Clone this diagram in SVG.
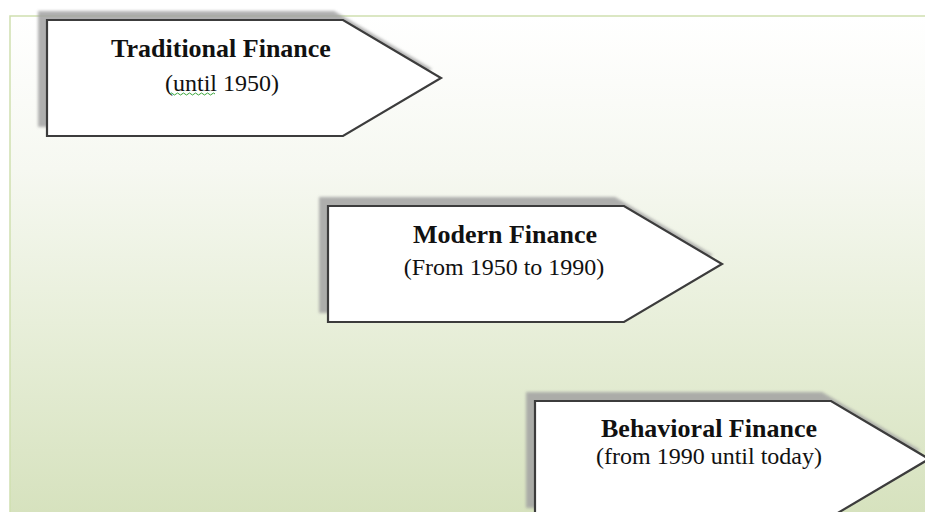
<svg xmlns="http://www.w3.org/2000/svg" width="925" height="512" viewBox="0 0 925 512">
  <defs>
    <linearGradient id="bg" x1="0" y1="0" x2="0" y2="1">
      <stop offset="0" stop-color="#ffffff"/>
      <stop offset="0.3" stop-color="#f6f8f1"/>
      <stop offset="0.6" stop-color="#e8efda"/>
      <stop offset="1" stop-color="#d5e1bc"/>
    </linearGradient>
    <filter id="shadow" x="-10%" y="-20%" width="120%" height="140%">
      <feGaussianBlur stdDeviation="1.8"/>
    </filter>
    <path id="arrowShape" d="M0,0 H296 L394,58 L296,116 H0 Z"/>
    <style>
      .sh { fill: #a2a2a2; opacity: 0.85; filter: url(#shadow); }
      .box { fill: #ffffff; stroke: #3c3c3c; stroke-width: 2.2; stroke-linejoin: miter; }
      .title { font-family: "Liberation Serif", "Times New Roman", serif; font-weight: bold; font-size: 26px; fill: #111111; text-anchor: middle; }
      .sub { font-family: "Liberation Serif", "Times New Roman", serif; font-size: 24px; fill: #111111; text-anchor: middle; }
      .wavy { fill: none; stroke: #3aa63a; stroke-width: 1; }
    </style>
  </defs>

  <rect width="925" height="512" fill="#ffffff"/>
  <rect x="10" y="16" width="930" height="510" fill="url(#bg)" stroke="#cfdfb0" stroke-width="1.5"/>

  <g id="connectors"></g>

  <g id="node-traditional" transform="translate(47,20)">
    <use href="#arrowShape" class="sh" transform="translate(-9,-9)"/>
    <use href="#arrowShape" class="box"/>
    <text class="title" x="174" y="37">Traditional Finance</text>
    <text class="sub" x="175" y="71">(until 1950)</text>
    <path class="wavy" d="M123,74 q1.5,-2 3,0 t3,0 t3,0 t3,0 t3,0 t3,0 t3,0 t3,0 t3,0 t3,0 t3,0 t3,0 t3,0 t3,0 t3,0"/>
  </g>

  <g id="node-modern" transform="translate(328,206)">
    <use href="#arrowShape" class="sh" transform="translate(-9,-9)"/>
    <use href="#arrowShape" class="box"/>
    <text class="title" x="177" y="37">Modern Finance</text>
    <text class="sub" x="176" y="69">(From 1950 to 1990)</text>
  </g>

  <g id="node-behavioral" transform="translate(535,401)">
    <use href="#arrowShape" class="sh" transform="translate(-9,-9)"/>
    <use href="#arrowShape" class="box"/>
    <text class="title" x="174" y="36">Behavioral Finance</text>
    <text class="sub" x="174" y="63">(from 1990 until today)</text>
  </g>
</svg>
